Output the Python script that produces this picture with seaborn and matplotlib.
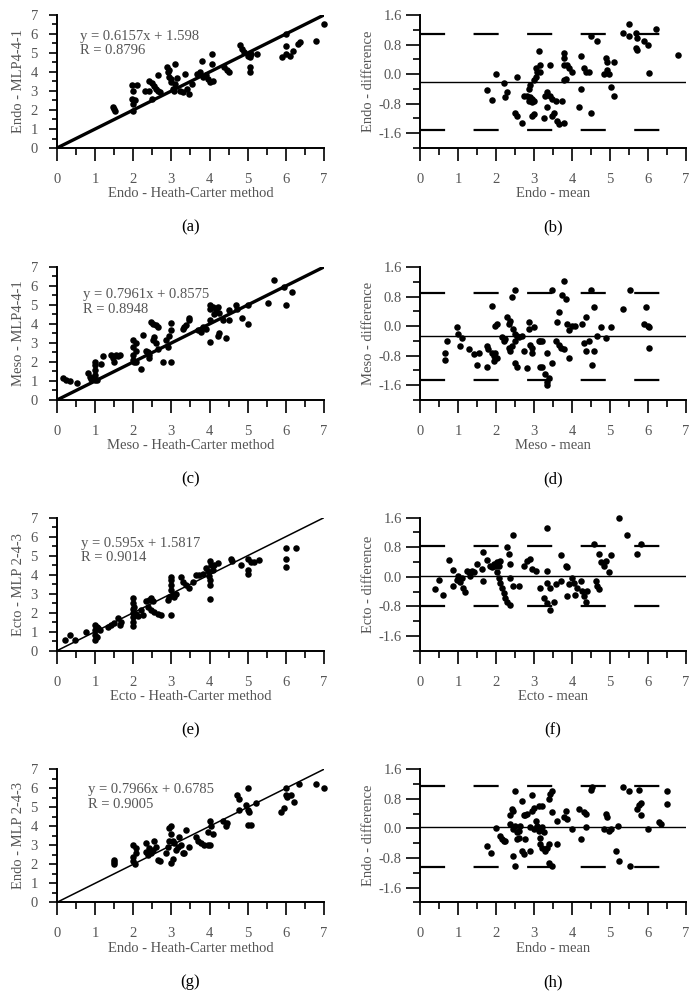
import matplotlib
matplotlib.use("Agg")
import matplotlib.pyplot as plt
import pandas as pd
import seaborn as sns
from matplotlib.ticker import MultipleLocator, FormatStrFormatter

# --- data: (x, y) pairs per panel ---

# (a) Endo: Heath-Carter method vs MLP 4-4-1
endo_hc_vs_mlp441 = [
    (1.48, 2.15), (1.52, 1.97), (1.5, 2.05),
    (1.96, 3.29), (2.0, 3.02), (1.96, 2.58), (2.0, 2.31), (2.0, 1.96), (2.05, 2.5), (2.1, 3.3),
    (2.4, 3.55), (2.4, 3.02), (2.5, 3.4), (2.55, 3.28), (2.6, 3.1), (2.65, 3.02), (2.7, 2.93), (2.48, 2.58), (2.66, 3.82),
    (2.88, 4.25), (2.92, 3.99), (2.95, 3.73), (3.0, 3.46), (3.05, 3.11), (3.08, 3.02), (3.1, 4.43), (3.0, 3.64), (3.1, 3.38),
    (3.22, 3.02), (3.3, 2.93), (3.36, 3.9), (3.4, 3.1), (3.45, 2.84), (3.53, 3.38),
    (3.66, 3.9), (3.75, 3.99), (3.8, 4.6), (3.84, 3.73), (3.9, 3.82), (3.95, 3.64), (4.0, 3.46), (4.1, 3.55), (4.06, 4.97), (4.06, 4.43),
    (4.37, 4.25), (4.5, 3.99), (4.45, 4.1),
    (4.8, 5.4), (4.85, 5.22), (4.9, 5.04), (5.0, 4.86), (5.05, 4.77), (5.1, 4.95), (5.07, 4.25), (5.07, 3.99), (5.24, 4.95),
    (5.9, 4.77), (6.0, 4.95), (6.0, 5.35), (6.1, 4.86), (6.2, 5.13), (6.33, 5.48), (6.38, 5.58), (6.0, 6.0), (6.8, 5.64), (7.0, 6.53),
    (2.3, 3.0), (2.95, 4.1), (3.15, 3.7),
]

# (b) Endo: mean vs difference
endo_mean_vs_diff = [
    (1.76, -0.44), (1.89, -0.69), (2.0, 0.0), (2.2, -0.23), (2.29, -0.49), (2.24, -0.63), (2.55, -0.07), (2.51, -1.04), (2.55, -1.13), (2.68, -1.31),
    (2.73, -0.58), (2.82, -0.6), (2.9, -0.62), (2.86, -0.72), (2.95, -0.67), (2.86, -0.4), (2.9, -0.3),
    (2.99, -0.17), (3.04, -0.07), (3.08, 0.06), (3.04, 0.16), (2.95, -0.76), (2.99, -0.72), (2.95, -1.13), (2.99, -1.08),
    (3.13, 0.62), (3.17, 0.06), (3.17, 0.25), (3.26, -1.18), (3.35, -0.49), (3.3, -0.58), (3.35, -0.9), (3.43, 0.25),
    (3.43, -0.58), (3.48, -0.67), (3.57, -0.72), (3.52, -1.04), (3.48, -1.13), (3.61, -1.27), (3.65, -1.36), (3.79, -1.31), (3.74, -0.72),
    (3.79, 0.57), (3.79, 0.43), (3.79, 0.25), (3.87, 0.25), (3.92, 0.16), (4.0, 0.06), (3.79, -0.17), (3.83, -0.12),
    (4.23, 0.48), (4.23, -0.4), (4.18, -0.9), (4.31, 0.16), (4.36, 0.06), (4.45, 0.06), (4.49, 1.03), (4.67, 0.89), (4.49, -1.04),
    (4.89, 0.43), (4.93, 0.34), (4.84, 0.0), (4.97, 0.0), (4.93, 0.11), (5.02, -0.35), (5.1, -0.58), (5.1, 0.34),
    (5.33, 1.12), (5.5, 1.35), (5.5, 1.03), (5.68, 1.12), (5.72, 0.98), (5.68, 0.71), (5.72, 0.66), (5.9, 0.89), (5.99, 0.8),
    (6.03, 0.02), (6.21, 1.21), (6.78, 0.52),
]

# (c) Meso: Heath-Carter method vs MLP 4-4-1
meso_hc_vs_mlp441 = [
    (0.16, 1.14), (0.24, 1.05), (0.33, 1.0), (0.52, 0.9), (0.81, 1.4), (0.86, 1.2), (0.9, 1.1),
    (1.0, 2.0), (1.0, 1.85), (1.0, 1.6), (1.0, 1.3), (1.0, 1.05), (1.05, 1.05), (1.16, 1.9), (1.2, 2.3),
    (1.42, 2.35), (1.46, 2.2), (1.5, 2.0), (1.55, 2.35), (1.6, 2.3), (1.64, 2.35),
    (2.0, 3.15), (2.0, 2.8), (2.0, 2.35), (2.0, 2.1), (2.03, 2.0), (2.07, 2.0), (2.07, 3.0), (2.07, 2.6), (2.2, 1.65), (2.25, 3.4),
    (2.34, 2.6), (2.38, 2.55), (2.42, 2.35), (2.42, 2.2), (2.47, 4.1), (2.51, 4.0), (2.6, 3.95), (2.64, 3.85), (2.51, 3.15), (2.55, 3.3),
    (2.6, 3.0), (2.64, 2.7),
    (2.77, 2.0), (3.0, 2.0), (2.86, 3.15), (2.9, 2.8), (2.95, 3.35), (3.0, 3.7), (3.0, 4.05),
    (3.3, 3.75), (3.34, 3.85), (3.38, 3.95), (3.47, 4.2), (3.47, 4.3), (3.69, 3.7), (3.77, 3.6), (3.82, 3.85), (3.9, 3.75),
    (4.0, 5.0), (4.0, 4.8), (4.0, 4.2), (4.0, 3.05), (4.08, 4.9), (4.12, 4.5), (4.17, 4.7), (4.21, 4.9), (4.25, 4.6),
    (4.21, 3.35), (4.25, 3.5), (4.34, 4.2), (4.43, 3.25), (4.52, 4.75), (4.52, 4.2), (4.69, 5.0), (4.73, 4.8), (4.86, 4.3),
    (5.0, 4.0), (5.0, 5.0),
    (5.52, 5.1), (5.69, 6.3), (5.95, 5.95), (6.0, 5.0), (6.17, 5.7),
]

# (d) Meso: mean vs difference
meso_mean_vs_diff = [
    (0.66, -0.92), (0.66, -0.72), (0.72, -0.4), (0.97, -0.02), (1.01, -0.22), (1.1, -0.31), (1.06, -0.54), (1.28, -0.63),
    (1.41, -0.76), (1.5, -1.04), (1.54, -0.72),
    (1.76, -1.1), (1.76, -0.54), (1.8, -0.63), (1.89, 0.55), (1.89, -0.72), (1.94, -0.94), (1.94, -0.8), (1.98, -0.72),
    (2.02, -0.85), (1.98, 0.0), (2.02, 0.07),
    (2.15, -0.3), (2.2, -0.4), (2.24, -0.35), (2.29, 0.25), (2.33, 0.05), (2.38, 0.15), (2.33, -0.58), (2.38, -0.67),
    (2.42, -0.54), (2.42, 0.78), (2.51, 0.98),
    (2.46, -0.08), (2.51, -0.22), (2.51, -0.4), (2.55, -0.26), (2.6, -0.3), (2.68, -0.26), (2.51, -1.0), (2.55, -1.1),
    (2.73, -0.67), (2.82, -1.13),
    (2.86, 0.12), (2.86, -0.08), (2.9, -0.5), (2.95, -0.58), (2.95, -0.72), (2.99, -0.02), (3.13, -0.4), (3.17, -0.4),
    (3.21, -0.4), (3.17, -1.1), (3.21, -1.1),
    (3.3, -1.3), (3.35, -1.5), (3.35, -1.6), (3.39, -1.4), (3.35, -0.72), (3.48, -1.0), (3.48, 0.99), (3.57, -0.4),
    (3.65, -0.5), (3.7, -0.58), (3.79, -0.63),
    (3.61, 0.1), (3.65, 0.37), (3.74, 0.83), (3.83, 0.74), (3.79, 1.21), (3.87, 0.05), (3.92, -0.1), (4.0, 0.0),
    (4.09, 0.0), (3.92, -0.85),
    (4.27, 0.07), (4.36, 0.25), (4.31, -0.45), (4.36, -0.67), (4.45, -0.4), (4.49, 0.99), (4.53, -1.04), (4.58, -0.67),
    (4.58, 0.53),
    (4.67, -0.28), (4.75, -0.02), (4.89, -0.33), (5.02, -0.02), (5.33, 0.46), (5.53, 0.99), (5.94, 0.51), (5.9, 0.07),
    (5.99, 0.01), (6.03, -0.02), (6.03, -0.58),
]

# (e) Ecto: Heath-Carter method vs MLP 2-4-3
ecto_hc_vs_mlp243 = [
    (0.2, 0.56), (0.33, 0.82), (0.46, 0.56), (0.77, 1.0),
    (1.0, 1.35), (1.0, 1.1), (1.0, 0.82), (1.0, 0.56), (1.04, 1.25), (1.08, 1.17), (1.12, 1.08), (1.04, 0.73),
    (1.33, 1.25), (1.42, 1.35), (1.5, 1.45), (1.6, 1.7), (1.64, 1.35), (1.68, 1.5),
    (2.0, 2.75), (2.0, 2.5), (2.0, 2.2), (2.0, 2.0), (2.0, 1.75), (2.0, 1.5), (2.0, 1.3), (2.03, 2.3), (2.08, 1.95), (2.12, 1.8),
    (2.2, 2.15), (2.25, 1.9), (2.34, 2.6), (2.38, 2.3), (2.42, 2.65), (2.47, 2.15), (2.55, 2.05), (2.64, 1.95), (2.73, 1.87),
    (2.47, 2.75), (2.51, 2.6),
    (3.0, 1.87), (2.9, 2.65), (2.95, 2.85), (3.0, 3.9), (3.0, 3.7), (3.0, 3.45), (3.0, 3.2), (3.03, 2.95), (3.08, 2.85), (3.12, 3.0),
    (3.25, 3.9), (3.3, 3.6), (3.38, 3.45), (3.47, 3.3), (3.56, 3.6), (3.64, 4.0), (3.73, 4.0), (3.82, 4.05),
    (3.9, 4.35), (3.95, 4.2), (3.98, 3.95), (4.0, 3.7), (4.0, 3.45), (4.0, 4.7), (4.04, 4.5), (4.08, 4.25), (4.12, 4.5),
    (4.21, 4.6), (4.0, 2.7),
    (4.56, 4.85), (4.6, 4.7), (4.82, 4.5), (5.0, 4.85), (5.0, 4.25), (5.0, 4.05), (5.08, 4.65), (5.17, 4.65), (5.3, 4.75),
    (6.0, 5.4), (6.0, 4.85), (6.0, 4.4), (6.26, 5.4),
]

# (f) Ecto: mean vs difference
ecto_mean_vs_diff = [
    (0.4, -0.34), (0.51, -0.09), (0.6, -0.5), (0.77, 0.46), (0.88, 0.19), (0.88, -0.25),
    (0.97, -0.09), (1.01, 0.03), (1.06, -0.15), (1.1, -0.02), (1.14, -0.3), (1.19, -0.4), (1.23, 0.17), (1.28, 0.12),
    (1.32, 0.03), (1.36, 0.17), (1.41, 0.12),
    (1.5, 0.35), (1.63, 0.21), (1.67, -0.11), (1.67, 0.68), (1.76, 0.46),
    (1.85, 0.3), (1.89, 0.26), (1.94, 0.35), (1.98, 0.3), (2.02, 0.4), (2.07, 0.3), (2.11, 0.44),
    (2.02, 0.12), (2.07, -0.02), (2.11, -0.16), (2.16, -0.3), (2.2, -0.44), (2.24, -0.57), (2.29, -0.67), (2.38, -0.76),
    (2.29, 0.81), (2.33, 0.63), (2.38, 0.35), (2.38, -0.02), (2.46, -0.25), (2.6, -0.25), (2.45, 1.14),
    (2.73, 0.3), (2.82, 0.44), (2.9, 0.49), (2.95, 0.21), (3.04, 0.17),
    (3.15, -0.3), (3.26, -0.57), (3.35, -0.71), (3.43, -0.9), (3.52, -0.67), (3.35, 1.32),
    (3.35, 0.17), (3.35, -0.16), (3.43, -0.3), (3.57, -0.2), (3.7, -0.11), (3.7, 0.58),
    (3.83, 0.3), (3.87, 0.26), (3.87, -0.53), (3.92, -0.2),
    (4.0, -0.02), (4.05, -0.16), (4.09, -0.48), (4.14, -0.3), (4.23, -0.11), (4.27, -0.39), (4.31, -0.53), (4.36, -0.67),
    (4.4, -0.39),
    (4.58, 0.9), (4.62, -0.11), (4.67, -0.25), (4.71, -0.34),
    (4.71, 0.63), (4.75, 0.4), (4.84, 0.3), (4.89, 0.44), (4.97, 0.12), (5.02, 0.58),
    (5.24, 1.6), (5.44, 1.14), (5.7, 0.63), (5.81, 0.89),
]

# (g) Endo: Heath-Carter method vs MLP 2-4-3
endo_hc_vs_mlp243 = [
    (1.5, 2.2), (1.5, 2.1), (1.5, 2.0),
    (2.0, 3.0), (2.0, 2.4), (2.0, 2.15), (2.04, 2.0), (2.08, 2.6), (2.08, 2.85),
    (2.34, 3.1), (2.34, 2.65), (2.38, 2.5), (2.42, 2.85), (2.47, 2.6), (2.51, 2.75), (2.55, 3.25), (2.6, 2.9), (2.64, 2.2),
    (2.69, 2.15),
    (2.86, 2.6), (2.9, 2.9), (2.95, 3.25), (2.95, 3.9), (2.99, 4.0), (2.99, 3.6), (3.03, 3.25), (2.99, 2.05), (3.03, 2.3),
    (3.08, 3.1), (3.12, 2.75), (3.16, 2.9), (3.21, 3.45), (3.25, 3.0), (3.3, 2.6), (3.34, 2.6), (3.38, 3.8), (3.47, 2.9),
    (3.64, 3.45), (3.69, 3.2), (3.77, 3.1), (3.86, 3.0), (3.95, 3.0), (4.0, 3.0), (3.95, 3.7), (4.0, 4.3), (4.04, 4.0),
    (4.08, 3.6),
    (4.34, 4.3), (4.43, 4.0), (4.47, 4.15),
    (4.73, 5.65), (4.78, 5.45), (4.78, 4.85), (4.95, 5.1), (5.0, 4.85), (5.0, 6.0), (5.04, 4.75), (5.0, 4.05), (5.08, 4.05),
    (5.21, 5.2),
    (5.87, 4.75), (5.95, 4.95), (6.0, 6.0), (6.0, 5.65), (6.04, 5.55), (6.13, 5.65), (6.21, 5.3), (6.35, 6.25), (6.78, 6.2),
    (7.0, 6.0),
]

# (h) Endo: mean vs difference (MLP 2-4-3)
endo243_mean_vs_diff = [
    (1.76, -0.47), (1.88, -0.67), (2.0, 0.0), (2.11, -0.2), (2.16, -0.29), (2.2, -0.34), (2.24, -0.34),
    (2.38, 0.35), (2.42, 0.53), (2.46, 0.47), (2.38, 0.12), (2.46, -0.02), (2.51, 0.07), (2.55, -0.29), (2.6, -0.06),
    (2.64, 0.07),
    (2.46, -0.75), (2.51, -1.02), (2.51, 1.0), (2.55, -0.1), (2.6, -0.25),
    (2.68, 0.75), (2.73, 0.35), (2.77, 0.35), (2.82, 0.4), (2.68, -0.6), (2.73, -0.7), (2.77, -0.29), (2.9, -0.6),
    (2.95, 0.9), (2.95, 0.47), (2.99, 0.56), (2.9, 0.05), (2.99, -0.02), (3.04, 0.2), (3.08, 0.07), (3.13, -0.06),
    (3.17, -0.25), (3.21, 0.05), (3.26, -0.1),
    (3.13, 0.6), (3.21, 0.6), (3.17, -0.43), (3.21, -0.52), (3.3, -0.6), (3.35, -0.52), (3.39, -0.43), (3.39, -0.93),
    (3.48, -1.02),
    (3.39, 0.8), (3.43, 0.93), (3.48, 1.02), (3.48, 0.44), (3.61, 0.21), (3.61, -0.41), (3.79, 0.3), (3.83, 0.48),
    (3.87, 0.25),
    (4.0, -0.02), (4.18, 0.53), (4.23, -0.29), (4.31, 0.44), (4.36, 0.39), (4.36, 0.05), (4.49, 1.03), (4.53, 1.12),
    (4.84, -0.02), (4.89, 0.39), (4.93, 0.3), (4.97, -0.06), (5.02, -0.02), (5.15, -0.6), (5.2, 0.07), (5.24, -0.88),
    (5.33, 1.12), (5.5, 1.0), (5.53, -1.02), (5.72, 0.53), (5.77, 0.62), (5.77, 1.03), (5.81, 0.7), (5.81, 0.35),
    (5.99, -0.02), (6.29, 0.16), (6.34, 0.12), (6.51, 0.66), (6.51, 1.0),
]

# regression text of the left panels
fit_text = [
    "y = 0.6157x + 1.598\nR = 0.8796",
    "y = 0.7961x + 0.8575\nR = 0.8948",
    "y = 0.595x + 1.5817\nR = 0.9014",
    "y = 0.7966x + 0.6785\nR = 0.9005",
]
# Bland-Altman lines of the right panels: mean difference, upper and lower limits
bias = [-0.21, -0.28, 0.02, 0.05]
upper_limit = [1.08, 0.89, 0.83, 1.14]
lower_limit = [-1.50, -1.45, -0.79, -1.04]

# identity line drawn in the left panels
identity = [0, 7]

left_labels = [
    ("Endo - Heath-Carter method", "Endo - MLP4-4-1"),
    ("Meso - Heath-Carter method", "Meso - MLP4-4-1"),
    ("Ecto - Heath-Carter method", "Ecto - MLP 2-4-3"),
    ("Endo - Heath-Carter method", "Endo - MLP 2-4-3"),
]
right_labels = [
    ("Endo - mean", "Endo - difference"),
    ("Meso - mean", "Meso - difference"),
    ("Ecto - mean", "Ecto - difference"),
    ("Endo - mean", "Endo - difference"),
]
panel_tags = [("(a)", "(b)"), ("(c)", "(d)"), ("(e)", "(f)"), ("(g)", "(h)")]

left_data = [endo_hc_vs_mlp441, meso_hc_vs_mlp441, ecto_hc_vs_mlp243, endo_hc_vs_mlp243]
right_data = [endo_mean_vs_diff, meso_mean_vs_diff, ecto_mean_vs_diff, endo243_mean_vs_diff]

# --- styling ---
sns.set_style("ticks")
plt.rcParams["font.family"] = ["Liberation Serif", "DejaVu Serif"]
plt.rcParams["axes.unicode_minus"] = False

GREY = "#555555"
FS = 10.5

fig = plt.figure(figsize=(7, 9.98), dpi=100)

row_bottoms = [0.8517, 0.5992, 0.3480, 0.0959]
ax_h = 0.1333
# anchor (left, vertical centre) of the regression text in data units
fit_pos = [(0.6, 5.5), (0.68, 5.16), (0.64, 5.27), (0.81, 5.54)]
thick = [2.4, 2.4, 1.1, 1.1]


def style_axis(ax):
    sns.despine(ax=ax)
    for s in ["left", "bottom"]:
        ax.spines[s].set_linewidth(1.4)
        ax.spines[s].set_color("black")
    ax.xaxis.set_major_locator(MultipleLocator(1))
    ax.xaxis.set_minor_locator(MultipleLocator(0.5))
    ax.tick_params(axis="x", which="major", direction="out", length=9.4, width=1.2,
                   colors="black", labelcolor=GREY, labelsize=FS, pad=8.5)
    ax.tick_params(axis="x", which="minor", direction="out", length=5, width=1.2, colors="black")


for i in range(4):
    # left: method comparison
    ax = fig.add_axes([0.0814, row_bottoms[i], 0.3814, ax_h])
    df = pd.DataFrame(left_data[i], columns=["x", "y"])
    sns.lineplot(x=identity, y=identity, ax=ax, color="black", linewidth=thick[i])
    sns.scatterplot(data=df, x="x", y="y", ax=ax, color="black", s=22,
                    edgecolor="black", linewidth=0, clip_on=False, zorder=3)
    ax.set_xlim(0, 7)
    ax.set_ylim(0, 7)
    style_axis(ax)
    ax.yaxis.set_major_locator(MultipleLocator(1))
    ax.yaxis.set_minor_locator(MultipleLocator(0.5))
    ax.tick_params(axis="y", which="major", direction="out", length=5.8, width=1.2,
                   colors="black", labelcolor=GREY, labelsize=FS, pad=8)
    ax.tick_params(axis="y", which="minor", direction="out", length=3.6, width=1.2, colors="black")
    ax.set_xlabel(left_labels[i][0], color=GREY, fontsize=FS, labelpad=1)
    ax.set_ylabel(left_labels[i][1], color=GREY, fontsize=FS, labelpad=4)
    ax.text(fit_pos[i][0], fit_pos[i][1], fit_text[i], color=GREY, fontsize=FS,
            linespacing=1.15, ha="left", va="center")
    ax.text(0.5, -0.6, panel_tags[i][0], transform=ax.transAxes, ha="center",
            va="center", fontsize=12, color="black")

    # right: Bland-Altman
    ax = fig.add_axes([0.6, row_bottoms[i], 0.38, ax_h])
    df = pd.DataFrame(right_data[i], columns=["x", "y"])
    ax.axhline(bias[i], color="black", linewidth=1.0, zorder=1)
    for lim in (upper_limit[i], lower_limit[i]):
        ax.axhline(lim, color="black", linewidth=1.6, linestyle=(0, (11.3, 12.8)), zorder=1)
    sns.scatterplot(data=df, x="x", y="y", ax=ax, color="black", s=22,
                    edgecolor="black", linewidth=0, clip_on=False, zorder=3)
    ax.set_xlim(0, 7)
    ax.set_ylim(-2.0, 1.6)
    style_axis(ax)
    ax.yaxis.set_major_locator(MultipleLocator(0.8))
    ax.yaxis.set_minor_locator(MultipleLocator(0.4))
    ax.yaxis.set_major_formatter(FormatStrFormatter("%.1f"))
    ax.tick_params(axis="y", which="major", direction="out", length=10, width=1.2,
                   colors="black", labelcolor=GREY, labelsize=FS, pad=3)
    ax.tick_params(axis="y", which="minor", direction="out", length=5, width=1.2, colors="black")
    ax.set_xlabel(right_labels[i][0], color=GREY, fontsize=FS, labelpad=1)
    ax.set_ylabel(right_labels[i][1], color=GREY, fontsize=FS, labelpad=3)
    ax.text(0.5, -0.6, panel_tags[i][1], transform=ax.transAxes, ha="center",
            va="center", fontsize=12, color="black")

fig.savefig("out.png", dpi=100)
